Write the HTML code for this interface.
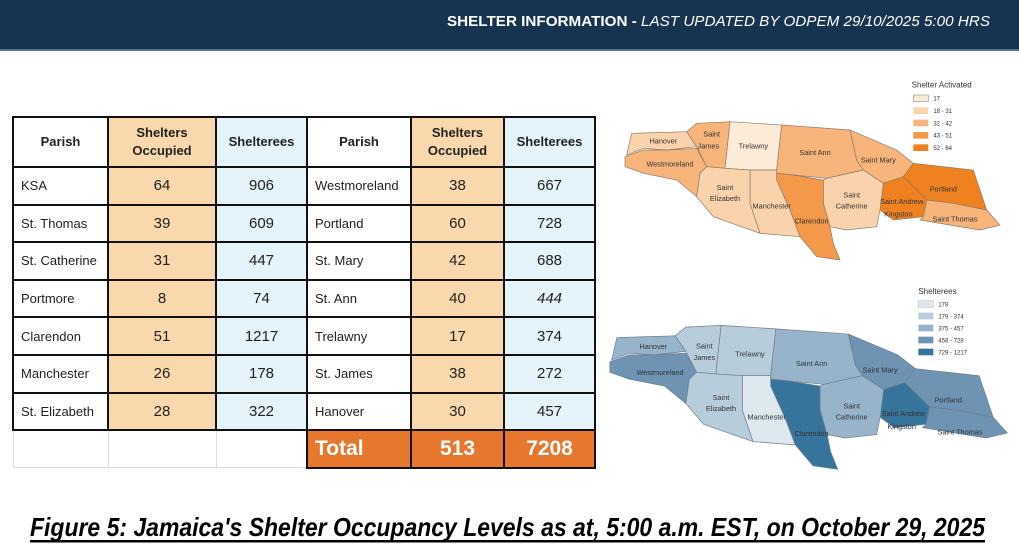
<!DOCTYPE html>
<html><head><meta charset="utf-8"><style>
*{margin:0;padding:0;box-sizing:border-box}
body{width:1019px;height:555px;background:#fff;position:relative;overflow:hidden;font-family:"Liberation Sans",sans-serif}
.hdr{position:absolute;left:0;top:0;width:1019px;height:51px;background:#16344f;border-bottom:2px solid #5d7389}
table{position:absolute;left:12px;top:116px;border-collapse:collapse;table-layout:fixed}
td{border:2px solid #111;height:37.6px;font-size:13px;color:#222;text-align:center}
td.p{text-align:left;padding-left:7px}
.o{background:#f8d8ac;font-size:15px}.b{background:#e5f3fb;font-size:15px}
tr.h td{height:50px;font-weight:bold;font-size:13px;line-height:18px}
td.e{border:1px solid #ddd;background:#fff}
td.t{background:#e8772e;color:#fff;font-weight:bold;font-size:21px}
svg{position:absolute}
</style></head><body>
<div class="hdr"></div>
<svg style="left:0;top:0" width="1019" height="51"><text x="447" y="26" fill="#fff" font-size="14.5" textLength="543" lengthAdjust="spacingAndGlyphs"><tspan font-weight="bold">SHELTER INFORMATION - </tspan><tspan font-style="italic">LAST UPDATED BY ODPEM 29/10/2025 5:00 HRS</tspan></text></svg>
<table>
<colgroup><col style="width:95px"><col style="width:108px"><col style="width:91px"><col style="width:104px"><col style="width:93px"><col style="width:91px"></colgroup>
<tr class="h"><td>Parish</td><td class="o" style="font-size:13px">Shelters<br>Occupied</td><td class="b" style="font-size:13px">Shelterees</td><td>Parish</td><td class="o" style="font-size:13px">Shelters<br>Occupied</td><td class="b" style="font-size:13px">Shelterees</td></tr>
<tr><td class="p">KSA</td><td class="o">64</td><td class="b">906</td><td class="p">Westmoreland</td><td class="o">38</td><td class="b">667</td></tr>
<tr><td class="p">St. Thomas</td><td class="o">39</td><td class="b">609</td><td class="p">Portland</td><td class="o">60</td><td class="b">728</td></tr>
<tr><td class="p">St. Catherine</td><td class="o">31</td><td class="b">447</td><td class="p">St. Mary</td><td class="o">42</td><td class="b">688</td></tr>
<tr><td class="p">Portmore</td><td class="o">8</td><td class="b">74</td><td class="p">St. Ann</td><td class="o">40</td><td class="b"><i>444</i></td></tr>
<tr><td class="p">Clarendon</td><td class="o">51</td><td class="b">1217</td><td class="p">Trelawny</td><td class="o">17</td><td class="b">374</td></tr>
<tr><td class="p">Manchester</td><td class="o">26</td><td class="b">178</td><td class="p">St. James</td><td class="o">38</td><td class="b">272</td></tr>
<tr><td class="p">St. Elizabeth</td><td class="o">28</td><td class="b">322</td><td class="p">Hanover</td><td class="o">30</td><td class="b">457</td></tr>
<tr><td class="e"></td><td class="e"></td><td class="e"></td><td class="t p">Total</td><td class="t">513</td><td class="t">7208</td></tr>
</table>

<svg style="left:600px;top:70px" width="419" height="200" viewBox="0 0 1257 600">
<g stroke="#8a7a6a" stroke-width="2" font-size="22" text-anchor="middle" fill="#333">
<g stroke="#8a7a6a">
<polygon fill="#fad3ac" points="80,255 95,190 260,185 290,230 200,240 130,235"/>
<polygon fill="#f7b57c" points="75,260 130,240 200,240 290,235 320,290 300,310 290,380 230,330 130,310 75,290"/>
<polygon fill="#f7b57c" points="260,185 290,160 390,155 375,295 320,290 290,230"/>
<polygon fill="#fcebd6" points="390,155 545,165 530,300 450,300 375,295"/>
<polygon fill="#f7b57c" points="545,165 750,180 770,270 790,300 680,325 580,315 530,310 530,300"/>
<polygon fill="#f7b57c" points="750,180 890,240 940,280 910,320 850,340 790,300 770,270"/>
<polygon fill="#ef8121" points="940,280 1120,300 1160,420 1060,400 980,390 910,320"/>
<polygon fill="#ef8121" points="850,340 910,320 980,390 970,440 880,450 840,420"/>
<polygon fill="#f7b57c" points="980,390 1060,400 1160,420 1200,465 1140,480 960,450 970,440"/>
<polygon fill="#fad3ac" points="670,330 680,325 790,300 850,340 840,420 830,470 740,480 690,470 670,400"/>
<polygon fill="#f4994a" points="530,310 580,315 670,330 670,400 690,470 700,520 720,570 650,560 600,500 570,420 530,330"/>
<polygon fill="#fad3ac" points="450,300 530,300 530,330 570,420 600,500 480,490 450,400"/>
<polygon fill="#fad3ac" points="320,290 375,295 450,300 450,400 480,490 340,440 290,380 300,310"/>
</g>
<g stroke="none">
<text x="190" y="220">Hanover</text><text x="210" y="290">Westmoreland</text><text x="335" y="200">Saint</text><text x="325" y="235">James</text><text x="460" y="235">Trelawny</text><text x="645" y="255">Saint Ann</text><text x="835" y="278">Saint Mary</text><text x="1030" y="365">Portland</text><text x="375" y="360">Saint</text><text x="375" y="393">Elizabeth</text><text x="515" y="415">Manchester</text><text x="635" y="460">Clarendon</text><text x="755" y="382">Saint</text><text x="755" y="415">Catherine</text><text x="905" y="402">Saint Andrew</text><text x="895" y="440">Kingston</text><text x="1065" y="455">Saint Thomas</text>
</g>
<g text-anchor="start" stroke="none" fill="#333"><text x="935" y="52" font-size="24">Shelter Activated</text>
<rect x="940" y="75" width="45" height="20" fill="#fcebd6" stroke="#999"/><text x="1000" y="92" font-size="18">17</text>
<rect x="940" y="112" width="45" height="20" fill="#fad3ac"/><text x="1000" y="129" font-size="18">18 - 31</text>
<rect x="940" y="149" width="45" height="20" fill="#f7b57c"/><text x="1000" y="166" font-size="18">32 - 42</text>
<rect x="940" y="186" width="45" height="20" fill="#f4994a"/><text x="1000" y="203" font-size="18">43 - 51</text>
<rect x="940" y="223" width="45" height="20" fill="#ef8121"/><text x="1000" y="240" font-size="18">52 - 64</text></g>
</g></svg>

<svg style="left:600px;top:280px" width="419" height="200" viewBox="0 0 1257 600">
<g transform="translate(-50,-25) scale(1.06,1.04)" stroke="#6e7f8e" stroke-width="2">
<polygon fill="#98b4ca" points="80,255 95,190 260,185 290,230 200,240 130,235"/>
<polygon fill="#6f93b3" points="75,260 130,240 200,240 290,235 320,290 300,310 290,380 230,330 130,310 75,290"/>
<polygon fill="#b8cddc" points="260,185 290,160 390,155 375,295 320,290 290,230"/>
<polygon fill="#b8cddc" points="390,155 545,165 530,300 450,300 375,295"/>
<polygon fill="#98b4ca" points="545,165 750,180 770,270 790,300 680,325 580,315 530,310 530,300"/>
<polygon fill="#6f93b3" points="750,180 890,240 940,280 910,320 850,340 790,300 770,270"/>
<polygon fill="#6f93b3" points="940,280 1120,300 1160,420 1060,400 980,390 910,320"/>
<polygon fill="#36749c" points="850,340 910,320 980,390 970,440 880,450 840,420"/>
<polygon fill="#6f93b3" points="980,390 1060,400 1160,420 1200,465 1140,480 960,450 970,440"/>
<polygon fill="#98b4ca" points="670,330 680,325 790,300 850,340 840,420 830,470 740,480 690,470 670,400"/>
<polygon fill="#36749c" points="530,310 580,315 670,330 670,400 690,470 700,520 720,570 650,560 600,500 570,420 530,330"/>
<polygon fill="#dde9ef" points="450,300 530,300 530,330 570,420 600,500 480,490 450,400"/>
<polygon fill="#b8cddc" points="320,290 375,295 450,300 450,400 480,490 340,440 290,380 300,310"/>
</g>
<g font-size="22" text-anchor="middle" fill="#333">
<text x="160" y="207">Hanover</text><text x="180" y="285">Westmoreland</text><text x="313" y="205">Saint</text><text x="313" y="240">James</text><text x="450" y="230">Trelawny</text><text x="635" y="258">Saint Ann</text><text x="840" y="278">Saint Mary</text><text x="1045" y="368">Portland</text><text x="363" y="360">Saint</text><text x="363" y="393">Elizabeth</text><text x="500" y="418">Manchester</text><text x="635" y="468">Clarendon</text><text x="755" y="385">Saint</text><text x="755" y="418">Catherine</text><text x="910" y="408">Saint Andrew</text><text x="905" y="447">Kingston</text><text x="1080" y="463">Saint Thomas</text>
</g>
<g text-anchor="start" fill="#333"><text x="955" y="42" font-size="24">Shelterees</text>
<rect x="955" y="62" width="45" height="20" fill="#dde9ef" stroke="#999"/><text x="1015" y="79" font-size="18">178</text>
<rect x="955" y="98" width="45" height="20" fill="#b8cddc"/><text x="1015" y="115" font-size="18">179 - 374</text>
<rect x="955" y="134" width="45" height="20" fill="#98b4ca"/><text x="1015" y="151" font-size="18">375 - 457</text>
<rect x="955" y="170" width="45" height="20" fill="#6f93b3"/><text x="1015" y="187" font-size="18">458 - 728</text>
<rect x="955" y="206" width="45" height="20" fill="#36749c"/><text x="1015" y="223" font-size="18">729 - 1217</text></g>
</svg>

<svg style="left:0;top:500px" width="1019" height="55">
<text x="30" y="36" font-size="26" font-weight="bold" font-style="italic" fill="#000" textLength="955" lengthAdjust="spacingAndGlyphs">Figure 5: Jamaica's Shelter Occupancy Levels as at, 5:00 a.m. EST, on October 29, 2025</text>
<rect x="30" y="40" width="955" height="2.5" fill="#000"/>
</svg>
</body></html>
